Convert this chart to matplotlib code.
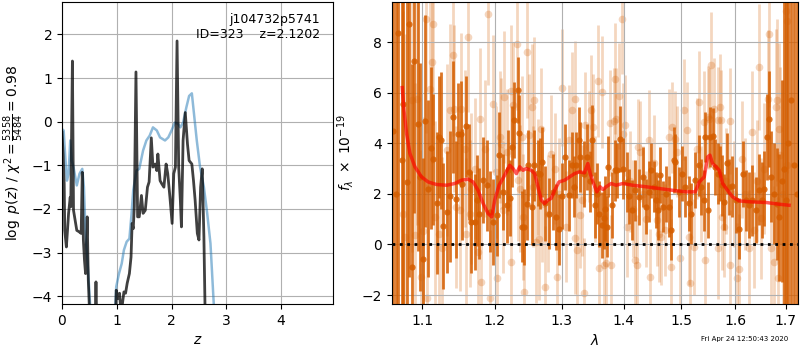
import numpy as np
import matplotlib
matplotlib.use('Agg')
import matplotlib.pyplot as plt
from matplotlib.ticker import FixedLocator, FormatStrFormatter, NullLocator

#%% Redshift PDF (left panel)
# coarse grid fit (blue)
z_coarse = [0.00, 0.03, 0.06, 0.09, 0.12, 0.15, 0.18, 0.21, 0.27, 0.32,
            0.37, 0.40, 0.43, 0.48, 0.55, 0.75, 0.96, 0.99, 1.04, 1.09,
            1.13, 1.18, 1.23, 1.27, 1.30, 1.36, 1.41, 1.48, 1.54, 1.60,
            1.66, 1.73, 1.79, 1.88, 1.94, 2.00, 2.06, 2.12, 2.16, 2.21,
            2.27, 2.32, 2.37, 2.41, 2.46, 2.52, 2.59, 2.65, 2.71, 2.77,
            2.85, 2.90]
logp_coarse = [-0.17, -0.20, -0.81, -1.35, -1.20, -0.43, -0.90, -1.04, -1.46, -1.19,
               -1.08, -1.50, -2.56, -3.48, -5.00, -7.00, -4.60, -3.78, -3.48, -3.25,
               -2.94, -2.75, -2.68, -2.10, -1.57, -1.12, -1.08, -0.66, -0.43, -0.32,
               -0.13, -0.20, -0.36, -0.43, -0.36, -0.20, -0.02, -0.05, -0.13, -0.02,
               0.33, 0.59, 0.65, 0.17, -0.43, -1.04, -1.50, -2.10, -2.79, -4.18,
               -5.50, -6.00]
# fine grid fit (black)
z_fine = [0.00, 0.02, 0.04, 0.05, 0.08, 0.10, 0.12, 0.15, 0.16, 0.19,
          0.21, 0.24, 0.27, 0.31, 0.35, 0.37, 0.39, 0.41, 0.43, 0.46,
          0.48, 0.51, 0.56, 0.60, 0.62, 0.64, 0.70, 0.95, 0.99, 1.02,
          1.05, 1.08, 1.13, 1.16, 1.19, 1.23, 1.26, 1.28, 1.30, 1.32,
          1.35, 1.38, 1.41, 1.45, 1.48, 1.52, 1.56, 1.59, 1.63, 1.66,
          1.70, 1.73, 1.75, 1.79, 1.82, 1.86, 1.90, 1.93, 1.97, 2.01,
          2.04, 2.07, 2.10, 2.13, 2.16, 2.18, 2.21, 2.25, 2.29, 2.32,
          2.37, 2.40, 2.43, 2.47, 2.50, 2.53, 2.56, 2.59, 2.62, 2.70]
logp_fine = [-0.24, -0.74, -1.42, -2.49, -2.87, -2.49, -2.10, -1.73, -1.95, 1.39,
             -2.03, -2.26, -2.49, -2.52, -2.56, -1.16, -2.71, -3.17, -3.48, -2.18,
             -3.63, -4.60, -6.00, -5.00, -3.67, -5.00, -7.00, -6.00, -3.86, -4.05,
             -3.93, -4.40, -3.90, -3.93, -3.70, -3.48, -3.10, -2.33, -2.45, -1.95,
             1.14, -2.18, -2.18, -1.69, -2.10, -2.03, -1.50, -1.38, -0.37, -1.04,
             -0.97, -1.12, -0.74, -1.35, -1.42, -1.50, -0.97, -1.19, -1.73, -2.33,
             -1.19, -1.04, 1.85, -1.04, -1.80, -2.41, -0.43, 0.21, -0.51, -0.89,
             -0.97, -1.35, -1.80, -2.56, -2.71, -1.50, -1.08, -2.64, -5.00, -8.00]

#%% 1D spectrum (right panel), flux in 1e-19
# combined G141 spectrum
dark_wave = [1.0625, 1.0655, 1.0689, 1.0733, 1.0753, 1.0797, 1.0830, 1.0869, 1.0895, 1.0940,
             1.0970, 1.1013, 1.1035, 1.1075, 1.1110, 1.1146, 1.1191, 1.1226, 1.1255, 1.1280,
             1.1333, 1.1370, 1.1415, 1.1452, 1.1483, 1.1520, 1.1543, 1.1589, 1.1635, 1.1668,
             1.1711, 1.1743, 1.1776, 1.1837, 1.1884, 1.1931, 1.1975, 1.2026, 1.2060, 1.2124,
             1.2172, 1.2195, 1.2219, 1.2255, 1.2284, 1.2332, 1.2357, 1.2391, 1.2426, 1.2466,
             1.2491, 1.2541, 1.2582, 1.2632, 1.2666, 1.2703, 1.2742, 1.2803, 1.2870, 1.2916,
             1.2960, 1.3005, 1.3056, 1.3107, 1.3159, 1.3185, 1.3229, 1.3265, 1.3292, 1.3345,
             1.3398, 1.3440, 1.3479, 1.3533, 1.3559, 1.3600, 1.3640, 1.3668, 1.3696, 1.3720,
             1.3749, 1.3803, 1.3860, 1.3898, 1.3942, 1.3997, 1.4053, 1.4095, 1.4138, 1.4195,
             1.4256, 1.4323, 1.4375, 1.4427, 1.4473, 1.4514, 1.4556, 1.4591, 1.4632, 1.4672,
             1.4725, 1.4777, 1.4825, 1.4866, 1.4896, 1.4955, 1.5015, 1.5074, 1.5134, 1.5182,
             1.5242, 1.5315, 1.5364, 1.5406, 1.5437, 1.5487, 1.5530, 1.5573, 1.5623, 1.5673,
             1.5710, 1.5754, 1.5786, 1.5849, 1.5881, 1.5945, 1.6008, 1.6074, 1.6158, 1.6203,
             1.6269, 1.6334, 1.6399, 1.6467, 1.6519, 1.6566, 1.6618, 1.6666, 1.6697, 1.6765,
             1.6820, 1.6866, 1.6920, 1.6960, 1.7006, 1.7050, 1.7110, 1.7177, 1.7230]
dark_flux = [4.50, 2.00, 8.36, 3.33, 5.57, 2.47, 8.72, -0.88, 7.24, 4.75,
             2.67, -0.57, 4.88, 2.20, 3.80, 3.36, 1.64, 4.25, 4.12, 0.72,
             1.28, 1.90, 5.04, 1.78, 4.38, 4.38, 2.38, 4.67, 2.87, 0.89,
             0.89, 1.75, 1.22, 2.54, 2.34, 1.29, 0.89, 1.16, 3.53, 2.08,
             1.55, 2.93, 1.82, 3.86, 4.91, 6.12, 4.41, 0.70, 0.70, 1.59,
             3.13, 1.49, 3.13, 2.83, 2.80, 3.26, 1.62, 1.22, 2.08, 1.09,
             0.60, 1.90, 3.46, 1.95, 3.13, 2.28, 3.13, 4.12, 3.46, 2.80,
             3.46, 2.50, 4.12, 1.55, 2.01, 1.20, 0.76, 1.03, 1.42, 0.70,
             3.07, 1.55, 2.93, 2.93, 4.18, 3.00, 2.47, 1.90, 1.36, 2.14,
             1.88, 2.67, 1.50, 2.08, 2.93, 2.28, 1.75, 1.36, 2.74, 1.49,
             2.00, 1.49, 0.59, 3.33, 3.26, 2.08, 2.80, 2.28, 1.62, 1.22,
             2.54, 3.13, 2.28, 1.75, 4.25, 1.36, 4.25, 4.28, 3.07, 2.80,
             2.80, 2.34, 1.68, 3.20, 2.28, 2.30, 1.75, 0.63, 2.80, 1.75,
             1.55, 1.75, 1.36, 2.17, 1.75, 2.21, 4.25, 4.96, 2.67, 2.01,
             1.60, 1.07, 2.50, 3.00, 1.75, 4.00, 5.72, 3.13, 2.00]
dark_err = [30, 30, 25, 20, 15, 12, 10, 8, 6, 5,
            4.5, 4.0, 4.2, 3.5, 3.2, 2.6, 2.8, 2.4, 2.7, 2.5,
            2.4, 2.6, 2.2, 2.3, 2.0, 2.1, 2.2, 2.0, 1.9, 2.0,
            1.9, 1.8, 1.8, 1.7, 1.8, 1.6, 1.7, 1.6, 1.7, 1.5,
            1.5, 1.6, 1.5, 1.6, 1.5, 1.3, 1.5, 1.4, 1.5, 1.4,
            1.4, 1.5, 1.4, 1.3, 1.4, 1.4, 1.5, 1.4, 1.5, 1.3,
            1.4, 1.3, 1.3, 1.4, 1.3, 1.2, 1.3, 1.3, 1.4, 1.3,
            1.3, 1.2, 1.4, 1.3, 1.2, 1.3, 1.3, 1.2, 1.3, 1.2,
            1.2, 1.3, 1.2, 1.1, 1.3, 1.2, 1.2, 1.1, 1.2, 1.2,
            1.1, 1.2, 1.1, 1.2, 1.1, 1.0, 1.1, 1.2, 1.1, 1.0,
            1.1, 1.2, 1.2, 1.3, 1.1, 1.0, 1.1, 1.2, 1.1, 1.2,
            1.1, 1.2, 1.1, 1.2, 1.0, 1.1, 1.2, 1.1, 1.1, 1.2,
            1.1, 1.2, 1.1, 1.2, 1.1, 1.2, 1.3, 1.2, 1.3, 1.2,
            1.3, 1.4, 1.3, 1.4, 1.5, 1.5, 1.7, 1.9, 1.8, 2.0,
            2.2, 2.5, 4.0, 15, 20, 25, 25, 30, 30]

# individual beams (pale)
light_wave = [1.0753, 1.0775, 1.0861, 1.0904, 1.0934, 1.0990, 1.1013, 1.1049, 1.1060, 1.1102,
              1.1124, 1.1146, 1.1168, 1.1226, 1.1270, 1.1325, 1.1370, 1.1407, 1.1430, 1.1460,
              1.1505, 1.1529, 1.1575, 1.1598, 1.1620, 1.1643, 1.1668, 1.1720, 1.1755, 1.1790,
              1.1805, 1.1861, 1.1898, 1.1931, 1.1979, 1.2010, 1.2037, 1.2069, 1.2084, 1.2124,
              1.2137, 1.2172, 1.2233, 1.2240, 1.2265, 1.2318, 1.2341, 1.2363, 1.2391, 1.2410,
              1.2420, 1.2466, 1.2500, 1.2541, 1.2563, 1.2583, 1.2605, 1.2632, 1.2655, 1.2680,
              1.2703, 1.2742, 1.2784, 1.2840, 1.2901, 1.2923, 1.2960, 1.3004, 1.3066, 1.3107,
              1.3159, 1.3203, 1.3213, 1.3238, 1.3292, 1.3318, 1.3345, 1.3372, 1.3424, 1.3463,
              1.3494, 1.3530, 1.3573, 1.3597, 1.3640, 1.3668, 1.3710, 1.3766, 1.3790, 1.3841,
              1.3860, 1.3880, 1.3920, 1.3966, 1.3983, 1.4020, 1.4053, 1.4100, 1.4167, 1.4195,
              1.4221, 1.4239, 1.4279, 1.4330, 1.4380, 1.4427, 1.4456, 1.4514, 1.4573, 1.4601,
              1.4648, 1.4720, 1.4777, 1.4825, 1.4837, 1.4896, 1.4925, 1.4985, 1.5044, 1.5105,
              1.5134, 1.5162, 1.5223, 1.5284, 1.5315, 1.5360, 1.5406, 1.5437, 1.5487, 1.5510,
              1.5549, 1.5594, 1.5673, 1.5684, 1.5705, 1.5734, 1.5754, 1.5786, 1.5830, 1.5900,
              1.5912, 1.5970, 1.6042, 1.6074, 1.6137, 1.6200, 1.6269, 1.6334, 1.6367, 1.6420,
              1.6467, 1.6499, 1.6560, 1.6634, 1.6666, 1.6697, 1.6765, 1.6797, 1.6818, 1.6845,
              1.6866, 1.6886, 1.6950, 1.6998, 1.7019, 1.7033]
light_flux = [1.22, 0.30, 5.70, 0.37, 5.76, -1.28, 0.54, 8.92, -2.13, 6.16,
              7.21, 8.72, 1.09, 0.43, -0.16, 3.72, 5.30, 7.47, 5.37, 1.49,
              1.36, 5.37, 3.79, 0.43, 8.22, 1.22, 2.21, 3.00, -0.30, 4.97,
              -1.47, 3.79, 9.09, -2.13, 5.57, 2.87, -1.34, 4.25, 3.99, 1.36,
              5.83, 3.66, -0.68, 6.06, 5.50, 7.91, 2.54, 2.21, 4.25, 1.09,
              -1.87, 7.60, 4.32, 5.43, 2.28, 5.70, 0.10, 2.67, 0.20, 4.58,
              1.59, -1.67, 1.22, 3.59, 3.00, -1.28, 2.00, 6.20, 0.70, 4.12,
              5.30, 0.24, 5.76, -0.22, 1.16, 1.75, -1.93, 4.71, 3.86, 5.30,
              4.64, 2.20, 6.46, -0.95, 6.03, -0.82, -0.75, 4.80, -0.82, 4.88,
              6.55, 4.97, 5.86, 8.92, 4.38, 4.71, 0.70, 2.50, 1.42, -0.62,
              -0.82, 3.86, 3.66, 2.00, 1.00, 4.12, -1.28, 3.20, 0.96, 0.43,
              0.30, 0.57, 4.25, -0.88, 4.64, 4.18, 3.66, -0.55, 5.33, 4.51,
              0.30, -1.54, -0.09, 3.79, 5.63, 2.00, 4.84, -0.62, 5.04, 4.97,
              7.08, 5.37, 4.91, -0.16, 5.43, 4.91, 1.09, 0.70, 2.50, 4.88,
              -0.82, 2.00, -1.34, -0.99, 3.36, 2.00, -0.16, 4.45, 0.57, 2.50,
              7.01, 1.03, 3.00, 5.76, 8.33, -0.16, -0.68, 5.43, 5.72, -1.34,
              4.58, 3.53, 2.00, 9.22, 8.82, 3.13]
light_err = [8, 8, 6, 6, 5, 5, 4.5, 4.5, 4.5, 4,
             4, 4, 3.8, 3.6, 3.6, 3.4, 3.4, 3.2, 3.3, 3.2,
             3.2, 3.0, 3.1, 3.0, 3.0, 2.9, 3.0, 2.8, 2.9, 2.8,
             2.8, 2.7, 2.8, 2.7, 2.7, 2.6, 2.7, 2.6, 2.6, 2.5,
             2.6, 2.5, 2.5, 2.6, 2.5, 2.6, 2.4, 2.5, 2.4, 2.5,
             2.5, 2.6, 2.4, 2.5, 2.4, 2.5, 2.4, 2.3, 2.4, 2.4,
             2.3, 2.4, 2.3, 2.3, 2.2, 2.3, 2.2, 2.3, 2.2, 2.2,
             2.3, 2.2, 2.3, 2.2, 2.1, 2.2, 2.2, 2.1, 2.2, 2.2,
             2.1, 2.1, 2.2, 2.1, 2.2, 2.1, 2.0, 2.1, 2.0, 2.1,
             2.2, 2.0, 2.1, 2.2, 2.0, 2.0, 2.0, 2.0, 1.9, 2.0,
             2.0, 1.9, 2.0, 1.9, 1.9, 2.0, 1.9, 1.9, 1.8, 1.9,
             1.9, 1.8, 1.9, 1.9, 1.8, 1.9, 1.8, 1.9, 2.0, 1.9,
             1.9, 2.0, 1.9, 2.0, 2.0, 1.9, 2.0, 1.9, 2.0, 2.0,
             2.1, 2.0, 2.1, 2.0, 2.1, 2.0, 2.1, 2.0, 2.1, 2.1,
             2.2, 2.1, 2.2, 2.2, 2.3, 2.2, 2.3, 2.4, 2.3, 2.4,
             2.5, 2.4, 2.6, 2.7, 2.9, 2.8, 3.0, 3.1, 3.2, 3.2,
             3.4, 3.5, 4.5, 6, 6, 8]

# best-fit model
model_wave = [1.0740, 1.0762, 1.0796, 1.0839, 1.0904, 1.0991, 1.1079, 1.1190, 1.1325, 1.1438,
              1.1529, 1.1622, 1.1691, 1.1761, 1.1832, 1.1903, 1.1955, 1.1998, 1.2060, 1.2142,
              1.2215, 1.2264, 1.2313, 1.2362, 1.2411, 1.2460, 1.2535, 1.2585, 1.2636, 1.2686,
              1.2737, 1.2787, 1.2838, 1.2890, 1.2957, 1.3045, 1.3123, 1.3201, 1.3281, 1.3360,
              1.3413, 1.3451, 1.3505, 1.3558, 1.3613, 1.3656, 1.3711, 1.3793, 1.3875, 1.3986,
              1.4154, 1.4382, 1.4613, 1.4848, 1.5086, 1.5255, 1.5328, 1.5420, 1.5482, 1.5525,
              1.5574, 1.5637, 1.5699, 1.5762, 1.5856, 1.5951, 1.6079, 1.6337, 1.6599, 1.6866,
              1.7069]
model_flux = [6.20, 5.30, 4.38, 3.60, 3.07, 2.67, 2.47, 2.37, 2.34, 2.41,
              2.54, 2.58, 2.47, 2.14, 1.62, 1.22, 1.09, 1.75, 2.34, 2.74,
              3.13, 3.00, 2.80, 3.07, 2.93, 3.00, 2.93, 2.80, 2.28, 1.75,
              1.62, 1.75, 1.82, 2.14, 2.47, 2.54, 2.67, 2.80, 2.87, 2.83,
              3.20, 2.80, 2.41, 2.08, 2.28, 2.17, 2.28, 2.41, 2.34, 2.41,
              2.34, 2.28, 2.21, 2.14, 2.08, 2.08, 2.47, 2.67, 3.46, 3.53,
              3.20, 3.07, 2.93, 2.41, 2.14, 1.88, 1.72, 1.68, 1.66, 1.59,
              1.55]

g141_color = (0.8352941, 0.3686274, 0.0)

#%% Figure
fig = plt.figure(figsize=(8, 3.5), dpi=100)
ax1 = fig.add_axes([0.0775, 0.131, 0.339, 0.863])
ax2 = fig.add_axes([0.4896, 0.131, 0.5084, 0.863])

# left: log p(z)
ax1.plot(z_coarse, logp_coarse, color='tab:blue', alpha=0.5, lw=1.8)
ax1.plot(z_fine, logp_fine, color='k', alpha=0.75, lw=2)
ax1.set_xlim(0, 4.95)
ax1.set_ylim(-4.18, 2.74)
ax1.set_xticks([0, 1, 2, 3, 4])
ax1.set_yticks([-4, -3, -2, -1, 0, 1, 2])
ax1.grid()
ax1.set_xlabel('$z$')
ax1.set_ylabel(r'$\log\ p(z)$' + ' / ' + r'$\chi^2=\frac{5358}{5484}=0.98$')
ax1.text(0.95, 0.965, 'j104732p5741\nID=323    z=2.1202', transform=ax1.transAxes,
         ha='right', va='top', fontsize=9)

# right: spectrum
ax2.errorbar(light_wave, light_flux, yerr=light_err, fmt='o', color=g141_color,
             alpha=0.25, ms=5.5, mec='none', elinewidth=2, zorder=1)
ax2.errorbar(dark_wave, dark_flux, yerr=dark_err, fmt='o', color=g141_color,
             alpha=0.85, ms=4.5, mec='none', elinewidth=2, zorder=2)
ax2.plot(model_wave, model_flux, color='r', alpha=0.65, lw=2.5, zorder=3)
ax2.axhline(0, color='k', ls=':', lw=2, zorder=4)
ax2.set_xscale('log')
ax2.set_xlim(1.0605, 1.726)
ax2.set_ylim(-2.36, 9.58)
ax2.xaxis.set_major_locator(FixedLocator([1.1, 1.2, 1.3, 1.4, 1.5, 1.6, 1.7]))
ax2.xaxis.set_major_formatter(FormatStrFormatter('%.1f'))
ax2.xaxis.set_minor_locator(NullLocator())
ax2.set_yticks([-2, 0, 2, 4, 6, 8])
ax2.grid()
ax2.set_xlabel(r'$\lambda$')
ax2.set_ylabel(r'$f_\lambda\ \times\ 10^{-19}$')

fig.text(0.985, 0.031, 'Fri Apr 24 12:50:43 2020', ha='right', va='center', fontsize=5)

fig.savefig('out.png', dpi=100)
